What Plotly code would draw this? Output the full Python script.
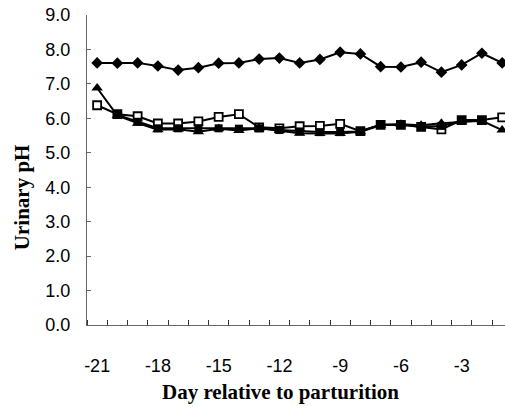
import plotly.graph_objects as go

days = list(range(-21, 0))
diamond_ph = [7.61, 7.60, 7.61, 7.52, 7.40, 7.47, 7.60, 7.61, 7.72, 7.75, 7.61,
              7.71, 7.92, 7.87, 7.50, 7.49, 7.63, 7.34, 7.55, 7.89, 7.61]
open_sq_ph = [6.38, 6.12, 6.06, 5.85, 5.85, 5.91, 6.04, 6.12, 5.74, 5.71, 5.77,
              5.78, 5.84, 5.63, 5.81, 5.81, 5.75, 5.68, 5.95, 5.95, 6.03]
triangle_ph = [6.88, 6.08, 5.86, 5.67, 5.68, 5.61, 5.70, 5.65, 5.71, 5.65, 5.57,
               5.56, 5.56, 5.61, 5.80, 5.83, 5.80, 5.86, 5.90, 5.93, 5.66]
filled_sq_ph = [None, 6.10, 5.90, 5.71, 5.71, 5.71, 5.71, 5.70, 5.71, 5.66, 5.62,
                5.60, 5.60, 5.62, 5.82, 5.82, 5.76, 5.78, 5.93, 5.95, None]
x_tick_vals = [-21, -18, -15, -12, -9, -6, -3]
y_tick_vals = [0, 1, 2, 3, 4, 5, 6, 7, 8, 9]

fig = go.Figure()
line = dict(color="black", width=2)
fig.add_trace(go.Scatter(x=days, y=diamond_ph, mode="lines+markers", line=line,
                         marker=dict(symbol="diamond", size=9, color="black"),
                         cliponaxis=False))
fig.add_trace(go.Scatter(x=days, y=open_sq_ph, mode="lines+markers", line=line,
                         marker=dict(symbol="square", size=8, color="white",
                                     line=dict(color="black", width=1.8)),
                         cliponaxis=False))
fig.add_trace(go.Scatter(x=days, y=triangle_ph, mode="lines+markers", line=line,
                         marker=dict(symbol="triangle-up", size=10, color="black"),
                         cliponaxis=False))
fig.add_trace(go.Scatter(x=days, y=filled_sq_ph, mode="lines+markers", line=line,
                         marker=dict(symbol="square", size=8, color="black"),
                         cliponaxis=False, connectgaps=False))

tick_font = dict(family="Liberation Sans, Arial", size=18, color="black")
fig.update_layout(
    width=505, height=408,
    margin=dict(l=87, r=0, t=15, b=83),
    paper_bgcolor="white", plot_bgcolor="white",
    showlegend=False,
    xaxis=dict(range=[-21.5, -0.86], tickmode="array", tickvals=x_tick_vals,
               ticktext=[str(v) for v in x_tick_vals], ticks="", showgrid=False,
               zeroline=False, showline=True, linecolor="#666", linewidth=1,
               tickfont=tick_font, ticklabelstandoff=24, automargin=False,
               minor=dict(tick0=-21.5, dtick=1, ticks="inside", ticklen=5,
                          tickcolor="#333", showgrid=False)),
    yaxis=dict(range=[0, 9], tickmode="array", tickvals=y_tick_vals,
               ticktext=[f"{v:.1f}" for v in y_tick_vals], ticks="inside",
               ticklen=4, tickcolor="#666", showgrid=False, zeroline=False,
               showline=True, linecolor="#666", linewidth=1,
               tickfont=tick_font, ticklabelstandoff=12, automargin=False),
    annotations=[
        dict(text="<b>Day relative to parturition</b>", xref="paper", yref="paper",
             x=0.464, y=-0.215, xanchor="center", yanchor="middle", showarrow=False,
             font=dict(family="Liberation Serif, Times New Roman", size=21, color="black")),
        dict(text="<b>Urinary pH</b>", xref="paper", yref="paper",
             x=-0.155, y=0.413, xanchor="center", yanchor="middle", showarrow=False,
             textangle=-90,
             font=dict(family="Liberation Serif, Times New Roman", size=21, color="black")),
    ],
)

fig.write_html("out.html", config={"displayModeBar": False},
               post_script="document.body.style.margin='0';")
